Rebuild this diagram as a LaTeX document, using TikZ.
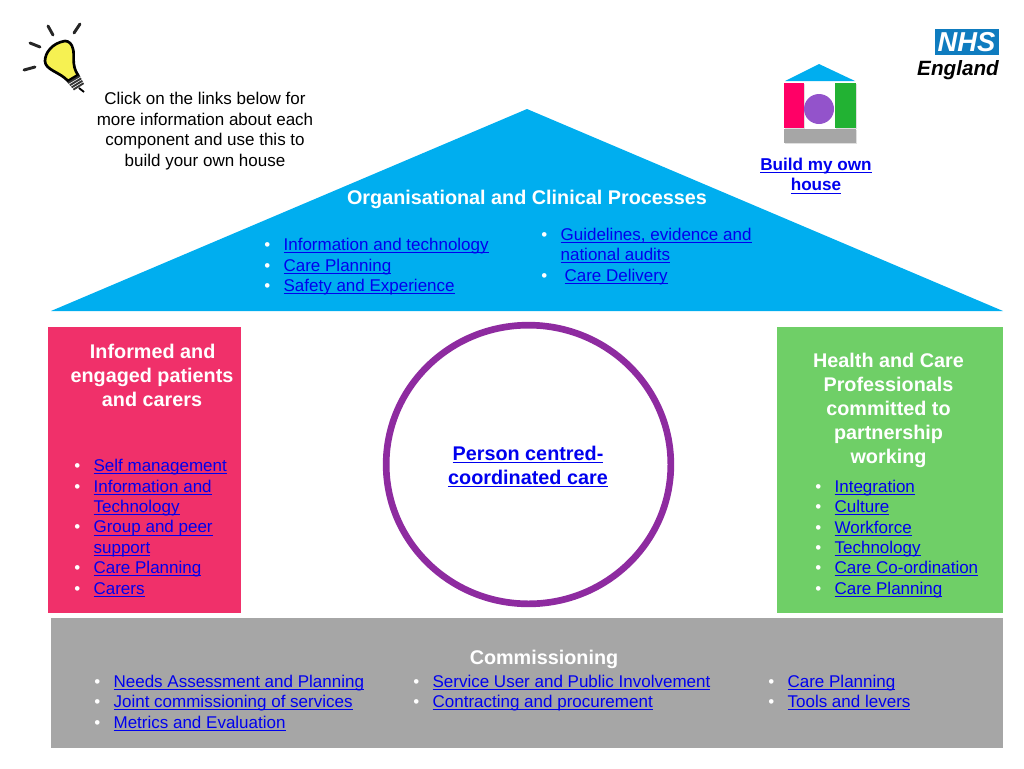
\documentclass[tikz,border=0pt]{standalone}
\usepackage{fontspec}
\setmainfont{Liberation Sans}
\usetikzlibrary{positioning,shadows,shapes.geometric}
\definecolor{roofblue}{HTML}{00AEEF}
\definecolor{pinkbox}{HTML}{F0306A}
\definecolor{greenbox}{HTML}{6FCF67}
\definecolor{greybox}{HTML}{A6A6A6}
\definecolor{ringpurple}{HTML}{8E2BA0}
\definecolor{linkblue}{HTML}{0000EE}
\definecolor{nhsblue}{HTML}{0F7CBF}
\definecolor{bulbyellow}{HTML}{F6F152}
\definecolor{minipink}{HTML}{FF0066}
\definecolor{minigreen}{HTML}{22B233}
\definecolor{minipurple}{HTML}{9353CB}
\newcommand{\lnk}[1]{\textcolor{linkblue}{\underline{\smash{#1}}}}
\newcommand{\blt}[1]{\makebox[14.5pt][l]{\textcolor{white}{•}}\lnk{#1}}
\newcommand{\cnt}[1]{\makebox[14.5pt][l]{}\lnk{#1}}
\begin{document}
\begin{tikzpicture}[x=0.75pt,y=-0.75pt]
\tikzset{
    listnode/.style={inner sep=0pt, align=left, anchor=north west, font=\fontsize{12.75}{15.3}\selectfont},
    headnode/.style={inner sep=0pt, align=center, text=white, font=\fontsize{14.85}{18}\selectfont\bfseries},
    linknode/.style={inner sep=0pt, align=center, font=\fontsize{14.85}{18}\selectfont\bfseries},
    ray/.style={line width=2.2pt, line cap=round, black!85},
    minibox/.style={drop shadow={opacity=0.25,shadow xshift=0.5pt,shadow yshift=-1pt}}
}
\useasboundingbox (0,0) rectangle (1024,768);
% house
\fill[roofblue] (527,109) -- (1003,311) -- (51,311) -- cycle;
\fill[pinkbox] (48,327) rectangle (241,613);
\fill[greenbox] (777,327) rectangle (1003,613);
\fill[greybox] (51,618) rectangle (1003,748);
\node[ellipse, draw=ringpurple, line width=5pt, minimum width=213.5pt, minimum height=209pt, inner sep=0pt] (person) at (528.5,464.5) {};
\node[linknode] at (528,474) {\lnk{Person centred-}\\\lnk{coordinated care}};

% roof text
\node[headnode] (processes) at (527,199.5) {Organisational and Clinical Processes};
\node[listnode] (roofleft) at (264,242.5) {\blt{Information and technology}\\\blt{Care Planning}\\\blt{Safety and Experience}};
\node[listnode] (roofright) at (541,232) {\blt{Guidelines, evidence and}\\\cnt{national audits}\\\makebox[17.5pt][l]{\textcolor{white}{•}}\lnk{Care Delivery}};

% left pillar
\node[headnode] (patients) at (152,375.5) {\hspace*{1pt}Informed and\\engaged patients\\and carers};
\node[listnode] (patientlist) at (74,463.5) {\blt{Self management}\\\blt{Information and}\\\cnt{Technology}\\\blt{Group and peer}\\\cnt{support}\\\blt{Care Planning}\\\blt{Carers}};

% right pillar
\node[headnode] (staff) at (888.5,410) {Health and Care\\Professionals\\committed to\\partnership\\working};
\node[listnode] (stafflist) at (815,484) {\blt{Integration}\\\blt{Culture}\\\blt{Workforce}\\\blt{Technology}\\\blt{Care Co-ordination}\\\blt{Care Planning}};

% commissioning
\node[headnode] (commissioning) at (544,659) {Commissioning};
\node[listnode] (commleft) at (94,679) {\blt{Needs Assessment and Planning}\\\blt{Joint commissioning of services}\\\blt{Metrics and Evaluation}};
\node[listnode] (commmid) at (413,679) {\blt{Service User and Public Involvement}\\\blt{Contracting and procurement}};
\node[listnode] (commright) at (768,679) {\blt{Care Planning}\\\blt{Tools and levers}};

% hint
\node[inner sep=0pt, align=center, font=\fontsize{12.75}{15.3}\selectfont] (hint) at (205,131) {Click on the links below for\\more information about each\\component and use this to\\build your own house};

% bulb
\draw[ray] (48,26) -- (53,35);
\draw[ray] (80,24) -- (74,33);
\draw[ray] (30,43) -- (40,47);
\draw[ray] (24,70) -- (35,67);
\draw[black, line width=2pt, fill=bulbyellow] (65,41) .. controls (52,43) and (45,53) .. (45,61) .. controls (45,70) and (60,72) .. (68,81) -- (78,75) .. controls (71,65) and (75,55) .. (73,49) .. controls (72,44) and (69,41) .. (65,41) -- cycle;
\foreach \i in {0,1,2,3}
    \draw[black!80, line width=1.4pt] (68+\i*1.8,83+\i*2.2) -- (80+\i*1.2,76+\i*2.4);
\draw[black, line width=1.4pt] (79,88) -- (84,92);

% logo
\fill[nhsblue] (935,29) rectangle (999,55);
\node[inner sep=0pt, text=white, font=\fontsize{20.5}{22}\selectfont\bfseries\itshape] (nhs) at (966.5,42) {NHS};
\node[inner sep=0pt, anchor=east, font=\fontsize{15.5}{18}\selectfont\bfseries\itshape] (england) at (999,70) {England};

% small house
\fill[roofblue] (819,64) -- (855,81) -- (785,81) -- cycle;
\fill[minipink, minibox] (784,83) rectangle (804,128);
\fill[minigreen, minibox] (835,83) rectangle (856,128);
\fill[greybox, minibox] (784,129) rectangle (856,143);
\node[circle, fill=minipurple, minimum size=22.5pt, inner sep=0pt] (minicircle) at (819,109) {};
\node[linknode, font=\fontsize{12.85}{15.4}\selectfont\bfseries] (buildhouse) at (816,182) {\lnk{Build my own}\\\lnk{house}};
\end{tikzpicture}
\end{document}
